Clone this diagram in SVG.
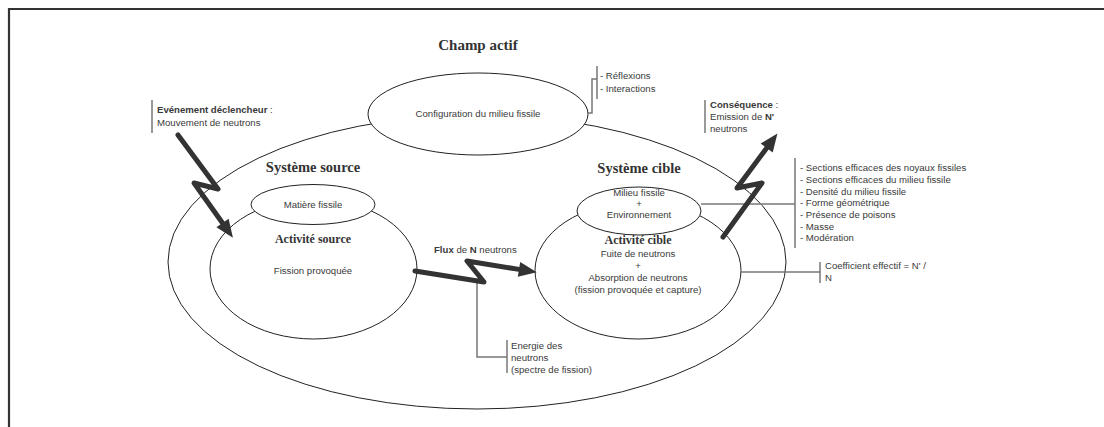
<svg xmlns="http://www.w3.org/2000/svg" width="1104" height="427" viewBox="0 0 1104 427">
<style>
.ell{fill:none;stroke:#222;stroke-width:1}
.br{fill:none;stroke:#777;stroke-width:1.5}
.t{font-family:"Liberation Sans",Arial,sans-serif;font-size:9.6px;fill:#3a3a3a}
.c{text-anchor:middle}
.b{font-weight:bold}
.h{font-family:"Liberation Serif","Times New Roman",serif;font-weight:bold;fill:#333;text-anchor:middle}
.z{fill:none;stroke:#333;stroke-width:5;stroke-linejoin:round;stroke-linecap:round}
</style>
<defs>
<marker id="ah" markerUnits="userSpaceOnUse" markerWidth="20" markerHeight="16" refX="0" refY="0" viewBox="0 -8 20 16" orient="auto" overflow="visible">
<path d="M0,-7.5 L18,0 L0,7.5 Z" fill="#333"/>
</marker>
</defs>
<rect width="1104" height="427" fill="#fff"/>
<path d="M9,427 V9 H1104" fill="none" stroke="#333" stroke-width="2.2"/>

<g id="champ-actif">
<ellipse class="ell" cx="477" cy="262" rx="309" ry="147"/>
<text class="h" x="478" y="50" font-size="15">Champ actif</text>
</g>

<g id="configuration">
<ellipse class="ell" cx="478" cy="114" rx="110" ry="41" style="fill:#fff"/>
<text class="t c" x="478" y="117">Configuration du milieu fissile</text>
</g>

<g id="systeme-source">
<text class="h" x="313" y="172" font-size="14.5">Système source</text>
<ellipse class="ell" cx="313.5" cy="269" rx="103.5" ry="70"/>
<text class="h" x="313" y="243" font-size="12">Activité source</text>
<text class="t c" x="313" y="274">Fission provoquée</text>
</g>

<g id="matiere-fissile">
<ellipse class="ell" cx="313" cy="204.5" rx="62" ry="20" style="fill:#fff"/>
<text class="t c" x="313" y="208">Matière fissile</text>
</g>

<g id="systeme-cible">
<text class="h" x="639" y="173" font-size="14.5">Système cible</text>
<ellipse class="ell" cx="638" cy="270.5" rx="103" ry="68.5"/>
<text class="h" x="638" y="244" font-size="12">Activité cible</text>
<text class="t c" x="638" y="257">Fuite de neutrons</text>
<text class="t c" x="638" y="269">+</text>
<text class="t c" x="638" y="281">Absorption de neutrons</text>
<text class="t c" x="638" y="293">(fission provoquée et capture)</text>
</g>

<g id="milieu-fissile">
<ellipse class="ell" cx="639" cy="211" rx="62" ry="24" style="fill:#fff"/>
<text class="t c" x="639" y="196">Milieu fissile</text>
<text class="t c" x="639" y="207">+</text>
<text class="t c" x="639" y="218">Environnement</text>
</g>

<g id="reflexions">
<text class="t" x="600" y="79">- Réflexions</text>
<text class="t" x="600" y="92">- Interactions</text>
</g>

<g id="evenement">
<text class="t" x="157" y="113"><tspan class="b">Evénement déclencheur</tspan> :</text>
<text class="t" x="157" y="126">Mouvement de neutrons</text>
</g>

<g id="consequence">
<text class="t" x="710" y="108"><tspan class="b">Conséquence</tspan> :</text>
<text class="t" x="710" y="120">Emission de <tspan class="b">N'</tspan></text>
<text class="t" x="710" y="132">neutrons</text>
</g>

<g id="flux">
<text class="t" x="434" y="253"><tspan class="b">Flux</tspan> de <tspan class="b">N</tspan> neutrons</text>
</g>

<g id="energie">
<text class="t" x="511" y="349">Energie des</text>
<text class="t" x="511" y="361">neutrons</text>
<text class="t" x="511" y="373">(spectre de fission)</text>
</g>

<g id="parametres">
<text class="t" x="800" y="171">- Sections efficaces des noyaux fissiles</text>
<text class="t" x="800" y="183">- Sections efficaces du milieu fissile</text>
<text class="t" x="800" y="195">- Densité du milieu fissile</text>
<text class="t" x="800" y="206">- Forme géométrique</text>
<text class="t" x="800" y="218">- Présence de poisons</text>
<text class="t" x="800" y="229.5">- Masse</text>
<text class="t" x="800" y="241">- Modération</text>
</g>

<g id="coefficient">
<text class="t" x="825" y="269">Coefficient effectif = N' /</text>
<text class="t" x="825" y="281">N</text>
</g>

<g id="connectors">
<polyline class="br" points="588,113 592,113 592,79 597,79"/>
<line class="br" x1="597" y1="66" x2="597" y2="99"/>
<line class="br" x1="152" y1="100" x2="152" y2="133"/>
<line class="br" x1="705" y1="100" x2="705" y2="133"/>
<polyline class="br" points="477,282 477,357 507,357"/>
<line class="br" x1="507" y1="340" x2="507" y2="373"/>
<line class="br" x1="701" y1="204" x2="795" y2="204"/>
<line class="br" x1="795" y1="158" x2="795" y2="248"/>
<line class="br" x1="741" y1="272" x2="820" y2="272"/>
<line class="br" x1="820" y1="262" x2="820" y2="283"/>
<polyline class="z" points="178,135 218,189 194,183 222.5,223" marker-end="url(#ah)"/>
<polyline class="z" points="415,271 484,282 467,261 519,269.4" marker-end="url(#ah)"/>
<polyline class="z" points="723,237 762,183 737,188 766.7,148" marker-end="url(#ah)"/>
</g>
</svg>
